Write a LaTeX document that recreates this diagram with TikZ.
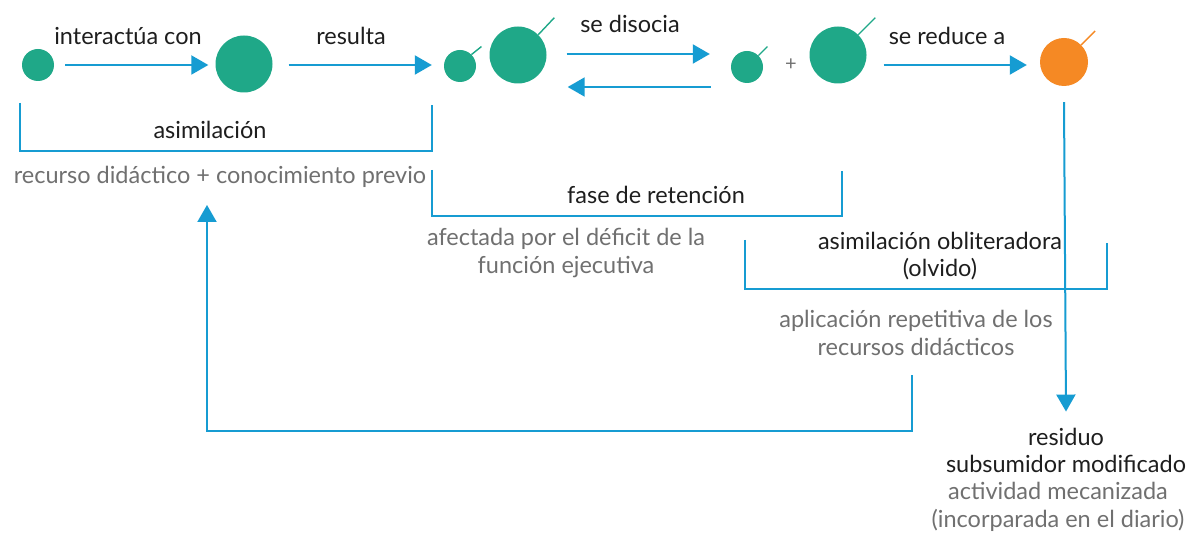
\documentclass[tikz,border=0pt]{standalone}
\usepackage{fontspec}
\setmainfont{Lato}
\usetikzlibrary{arrows.meta,calc}
\definecolor{teal}{RGB}{31,168,136}
\definecolor{lineblue}{RGB}{22,156,210}
\definecolor{orng}{RGB}{245,137,36}
\definecolor{txtgray}{RGB}{112,112,112}
\definecolor{txtblack}{RGB}{30,30,30}
\tikzset{
  dot/.style={circle,fill=teal,inner sep=0pt,minimum size=#1},
  odot/.style={circle,fill=orng,inner sep=0pt,minimum size=#1},
  tick/.style={draw=teal,line width=1.4pt},
  otick/.style={draw=orng,line width=1.4pt},
  arr/.style={draw=lineblue,line width=2pt,-{Triangle[length=17pt,width=19pt]}},
  brk/.style={draw=lineblue,line width=2pt},
  lbl/.style={text=txtblack,font=\fontsize{23.5}{27}\selectfont,inner sep=0pt,align=center},
  glbl/.style={text=txtgray,font=\fontsize{23.5}{28}\selectfont,inner sep=0pt,align=center},
}
\begin{document}
\begin{tikzpicture}[x=1pt,y=-1pt]
\useasboundingbox[fill=white] (0,0) rectangle (1190,534);
% circles
\node[dot=32pt] (c1) at (38,65) {};
\node[dot=57pt] (c2) at (244,64) {};
\node[dot=32pt] (c3) at (460,66) {};
\node[dot=57pt] (c4) at (518,55) {};
\node[dot=32pt] (c5) at (747,67) {};
\node[dot=57pt] (c6) at (838,55) {};
\node[odot=48pt] (or) at (1064,62) {};
\node[text=txtgray,font=\fontsize{20}{20}\selectfont,inner sep=0pt] (plus) at (791,65) {+};
% ticks
\draw[tick] (c3.45) -- ++(10,-8);
\draw[tick] (c4.45) -- ++(16,-17);
\draw[tick] (c5.45) -- ++(9,-9);
\draw[tick] (c6.45) -- ++(17,-17);
\draw[otick] (or.45) -- ++(14,-14);
% top labels
\node[lbl] (l1) at (128,36) {interactúa con};
\node[lbl] (l2) at (351,36) {resulta};
\node[lbl] (l3) at (630,24) {se disocia};
\node[lbl] (l4) at (947,36) {se reduce a};
% top arrows
\draw[arr] ($(c1.east)+(11,0)$) -- ($(c2.west)+(-7,1)$);
\draw[arr] ($(c2.east)+(16,1)$) -- ($(c3.west)+(-12,-1)$);
\draw[arr] ($(c4.east)+(20,-1)$) -- ($(c5.west)+(-21,-13)$);
\draw[arr] ($(c5.west)+(-20,20)$) -- ($(c4.east)+(21,32)$);
\draw[arr] ($(c6.east)+(17,10)$) -- ($(or.west)+(-13,3)$);
% bracket asimilacion
\draw[brk] (20,103) -- (20,151) -- (432,151) -- (432,105);
\node[lbl] (asim) at (210,130) {asimilación};
\node[glbl] (rec) at (220,177) {recurso didáctico + conocimiento previo};
% bracket fase de retencion
\draw[brk] (432,170) -- (432,216) -- (842,216) -- (842,171);
\node[lbl] (fase) at (656,195) {fase de retención};
\node[glbl] (afec) at (566,253) {afectada por el déficit de la\\función ejecutiva};
% bracket obliteradora
\draw[brk] (745,240) -- (745,289) -- (1107,289) -- (1107,243);
\node[lbl] (obl) at (940,256) {asimilación obliteradora\\(olvido)};
\node[glbl] (apl) at (916,333) {aplicación repetitiva de los\\recursos didácticos};
% residuo
\node[lbl] (res) at (1066,450) {residuo\\subsumidor modificado};
\node[glbl] (act) at (1058,507) {actividad mecanizada\\(incorparada en el diario)};
% vertical arrow
\draw[arr] ($(or.south)+(0,16)$) -- ($(res.north)+(0,-16)$);
% feedback arrow
\coordinate (fbs) at (912,375);
\coordinate (fbe) at (207,205);
\draw[arr] (fbs) -- ++(0,56) -| (fbe);
\end{tikzpicture}
\end{document}
